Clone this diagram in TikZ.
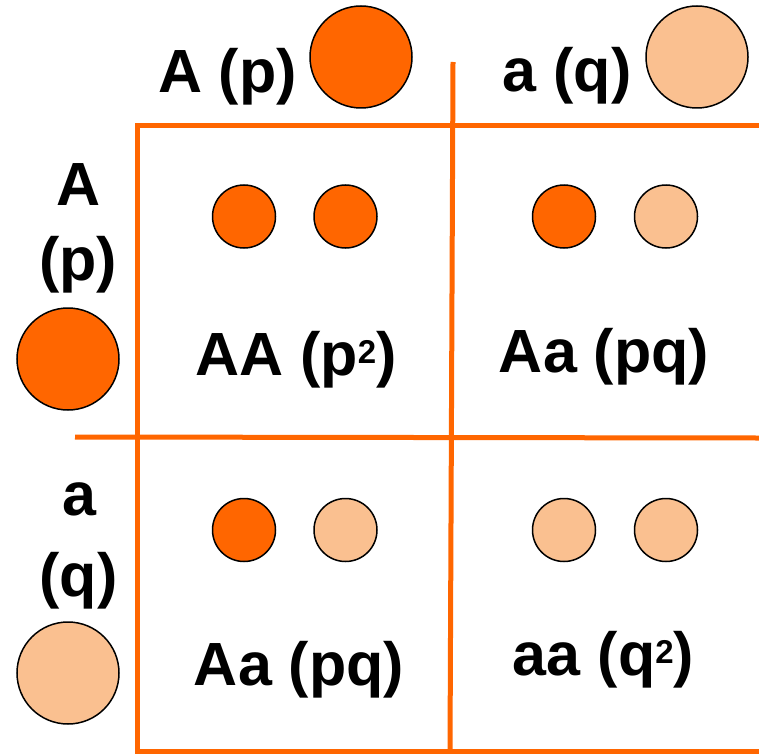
\documentclass[tikz,border=0pt]{standalone}
\usepackage{fontspec}
\setmainfont{Liberation Sans}
\definecolor{dark}{HTML}{FF6600}
\definecolor{light}{HTML}{FAC090}
\newcommand{\sqtwo}{\raisebox{12pt}{\fontsize{33}{33}\selectfont 2}}
\begin{document}
\begin{tikzpicture}[x=1pt,y=-1pt,
  grid/.style={draw=dark,line width=5pt},
  big/.style={circle,draw=black,line width=1.5pt,minimum size=102pt,inner sep=0pt},
  small/.style={circle,draw=black,line width=1.5pt,minimum size=63pt,inner sep=0pt},
  lbl/.style={inner sep=0pt,anchor=base,font=\bfseries\fontsize{61}{63}\selectfont}]
\useasboundingbox (0,0) rectangle (759,754);
% grid
\draw[grid] (759,126) -- (137,126) -- (137,751) -- (759,751);
\draw[grid] (75,437) -- (759,438);
\draw[grid] (453,62) -- (450,751);
% headers
\node[lbl] (hA) at (227.5,93) {A (p)};
\node[big,fill=dark] (cA) at (361,57) {};
\node[lbl] (ha) at (567,92) {a (q)};
\node[big,fill=light] (ca) at (697,57) {};
\node[lbl] (lA1) at (79,205) {A};
\node[lbl] (lA2) at (78,280) {(p)};
\node[big,fill=dark] (cA2) at (68,359) {};
\node[lbl] (la1) at (79.5,515) {a};
\node[lbl] (la2) at (78.5,596) {(q)};
\node[big,fill=light] (ca2) at (68,673) {};
% cells
\node[small,fill=dark] (s1) at (244,216.5) {};
\node[small,fill=dark] (s2) at (345.5,216.5) {};
\node[small,fill=dark] (s3) at (564,216.5) {};
\node[small,fill=light] (s4) at (666,216.5) {};
\node[small,fill=dark] (s5) at (244,530) {};
\node[small,fill=light] (s6) at (345.5,530) {};
\node[small,fill=light] (s7) at (564,530) {};
\node[small,fill=light] (s8) at (666,530) {};
\node[lbl] (t1) at (296,375) {AA (p\sqtwo)};
\node[lbl] (t2) at (604,372) {Aa (pq)};
\node[lbl] (t3) at (299,685) {Aa (pq)};
\node[lbl] (t4) at (603.5,675) {aa (q\sqtwo)};
\end{tikzpicture}
\end{document}
